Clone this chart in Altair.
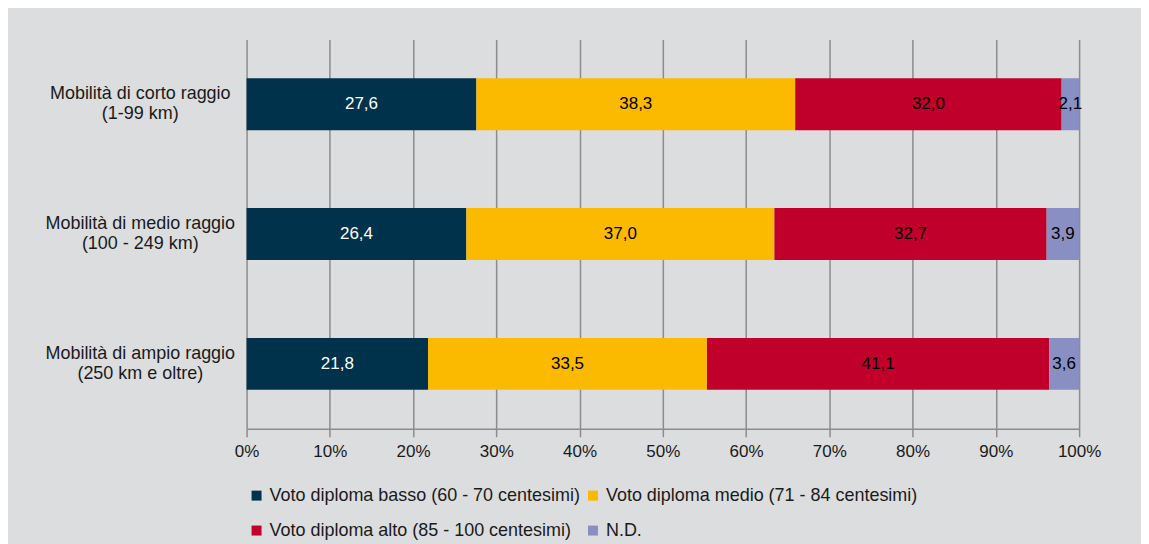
import altair as alt
import pandas as pd

categorie = [
    "Mobilità di corto raggio|(1-99 km)",
    "Mobilità di medio raggio|(100 - 249 km)",
    "Mobilità di ampio raggio|(250 km e oltre)",
]
serie = [
    "Voto diploma basso (60 - 70 centesimi)",
    "Voto diploma medio (71 - 84 centesimi)",
    "Voto diploma alto (85 - 100 centesimi)",
    "N.D.",
]
basso = [27.6, 26.4, 21.8]
medio = [38.3, 37.0, 33.5]
alto = [32.0, 32.7, 41.1]
nd = [2.1, 3.9, 3.6]
colori = ["#00324B", "#FBBA00", "#C0002A", "#8A8FC3"]
tick_valori = [0, 10, 20, 30, 40, 50, 60, 70, 80, 90, 100]

rows = []
for s_i, (s, vals) in enumerate(zip(serie, [basso, medio, alto, nd])):
    for c, v in zip(categorie, vals):
        rows.append({"categoria": c, "serie": s, "valore": v, "ord": s_i})
df = pd.DataFrame(rows)

FONT = "Liberation Sans"
GRID = "#8c8c8c"

base = alt.Chart(df).transform_stack(
    stack="valore", groupby=["categoria"], sort=[alt.SortField("ord")], as_=["x0", "x1"]
).transform_calculate(
    mid="(datum.x0 + datum.x1) / 2",
    etichetta="replace(format(datum.valore, '.1f'), '.', ',')",
)

y_enc = alt.Y(
    "categoria:N",
    sort=categorie,
    scale=alt.Scale(paddingInner=0.6, paddingOuter=0.3),
    axis=alt.Axis(
        title=None,
        labelExpr="split(datum.label, '|')",
        labelAlign="center",
        labelBaseline="middle",
        labelPadding=107,
        labelOffset=-10,
        labelLineHeight=20,
        labelFontSize=18,
        labelFont=FONT,
        labelColor="#1a1a1a",
        labelLimit=400,
        ticks=False,
        domain=False,
        grid=False,
    ),
)

bars = base.mark_bar().encode(
    y=y_enc,
    x=alt.X(
        "x0:Q",
        scale=alt.Scale(domain=[0, 100], nice=False),
        axis=alt.Axis(
            title=None,
            values=tick_valori,
            labelExpr="datum.value + '%'",
            labelFlush=False,
            grid=True,
            gridColor=GRID,
            gridWidth=1.5,
            tickColor=GRID,
            tickWidth=1.5,
            tickSize=8,
            domainColor=GRID,
            domainWidth=1.5,
            labelFontSize=17,
            labelFont=FONT,
            labelColor="#1a1a1a",
            labelPadding=7,
        ),
    ),
    x2="x1:Q",
    color=alt.Color(
        "serie:N",
        sort=serie,
        scale=alt.Scale(domain=serie, range=colori),
        legend=alt.Legend(
            title=None,
            orient="none",
            direction="horizontal",
            legendX=1,
            legendY=448,
            columns=2,
            columnPadding=3,
            rowPadding=17,
            symbolType="square",
            symbolSize=100,
            symbolStrokeWidth=0,
            labelFontSize=18,
            labelFont=FONT,
            labelColor="#1a1a1a",
            labelOffset=4,
            padding=0,
            labelLimit=400,
        ),
    ),
)

text = base.mark_text(fontSize=17, font=FONT, baseline="middle", align="center").encode(
    y=alt.Y("categoria:N", sort=categorie),
    x=alt.X("mid:Q"),
    text="etichetta:N",
    color=alt.condition(alt.datum.ord == 0, alt.value("white"), alt.value("black")),
)

chart = (
    alt.layer(bars, text)
    .properties(
        width=834,
        height=390,
        background="#dcdddf",
        padding={"left": 239, "top": 31, "right": 62, "bottom": 115},
        autosize=alt.AutoSizeParams(type="none"),
    )
    .configure_view(stroke="transparent")
)

chart.save("out.html", embed_options={"renderer": "svg", "actions": False})
